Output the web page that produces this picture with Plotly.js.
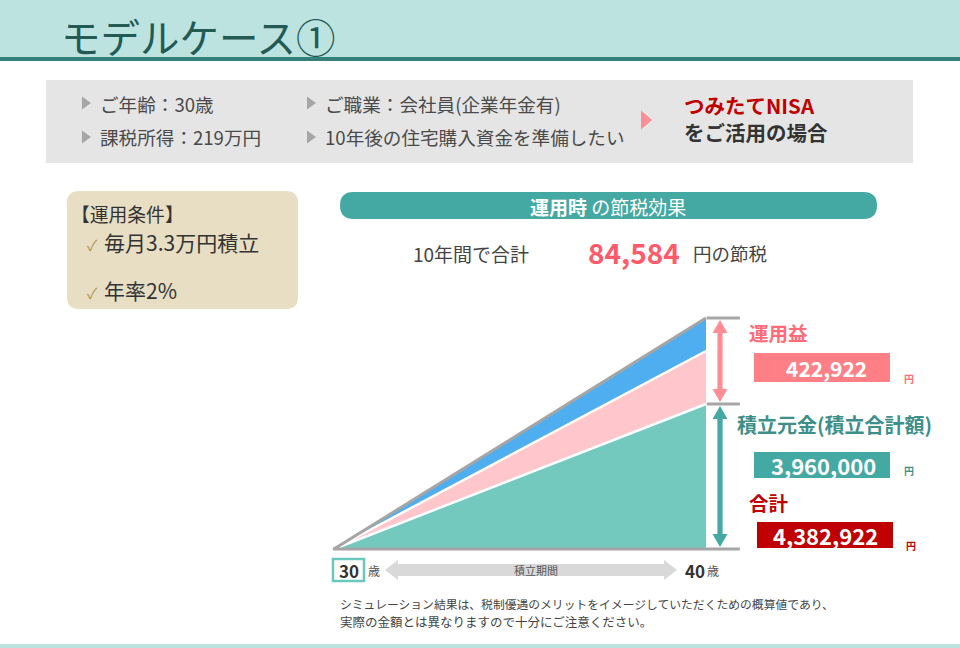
<!DOCTYPE html>
<html><head><meta charset="utf-8">
<script src="https://cdn.plot.ly/plotly-3.0.1.min.js"></script>
<style>html,body{margin:0;padding:0;background:#fff;} #chart{width:960px;height:648px;}</style>
</head><body><div id="chart"></div>
<script>
// ---- data ----
const ages = [30, 40];
const ageLabels = ['30', '40'];
// band heights as drawn in the schematic (arbitrary drawing units)
const principalBand = [0, 145];
const gainBand = [0, 53];
const taxBand = [0, 33];
const valueNames = ['運用益', '積立元金(積立合計額)', '合計'];
const valueLabels = ['422,922', '3,960,000', '4,382,922'];
const taxSaving = '84,584';
const profileItems = ['ご年齢：30歳', '課税所得：219万円', 'ご職業：会社員(企業年金有)', '10年後の住宅購入資金を準備したい'];
const conditions = ['毎月3.3万円積立', '年率2%'];

// ---- helpers (pixel -> paper) ----
const W = 960, H = 648;
const X = px => px / W;
const Y = py => 1 - py / H;
const JP = '"Noto Sans CJK JP", "Noto Sans", sans-serif';
const shapes = [];
const annotations = [];
function rect(x0, y0, x1, y1, fill, extra) {
  shapes.push(Object.assign({type: 'rect', xref: 'paper', yref: 'paper', x0: X(x0), x1: X(x1), y0: Y(y1), y1: Y(y0), fillcolor: fill, line: {width: 0}, layer: 'below'}, extra || {}));
}
function poly(pts, fill, layer) {
  const d = 'M' + pts.map(p => X(p[0]).toFixed(5) + ',' + Y(p[1]).toFixed(5)).join('L') + 'Z';
  shapes.push({type: 'path', xref: 'paper', yref: 'paper', path: d, fillcolor: fill, line: {width: 0}, layer: layer || 'above'});
}
function rrect(x0, y0, x1, y1, r, fill) {
  const P = (x, y) => X(x).toFixed(5) + ',' + Y(y).toFixed(5);
  const d = 'M' + P(x0 + r, y0) + 'L' + P(x1 - r, y0) + 'Q' + P(x1, y0) + ' ' + P(x1, y0 + r) +
    'L' + P(x1, y1 - r) + 'Q' + P(x1, y1) + ' ' + P(x1 - r, y1) + 'L' + P(x0 + r, y1) +
    'Q' + P(x0, y1) + ' ' + P(x0, y1 - r) + 'L' + P(x0, y0 + r) + 'Q' + P(x0, y0) + ' ' + P(x0 + r, y0) + 'Z';
  shapes.push({type: 'path', xref: 'paper', yref: 'paper', path: d, fillcolor: fill, line: {width: 0}, layer: 'below'});
}
function txt(text, x, y, size, color, xanchor, extra) {
  annotations.push(Object.assign({text: text, xref: 'paper', yref: 'paper', x: X(x), y: Y(y), xanchor: xanchor || 'left', yanchor: 'middle', showarrow: false, font: {family: JP, size: size, color: color}}, extra || {}));
}
function tri(x, y, w, h, fill) { poly([[x, y - h / 2], [x + w, y], [x, y + h / 2]], fill); }
function vArrow(x, y0, y1, color) {
  const s = 2.6, hw = 7.5, hl = 13;
  poly([[x, y0], [x - hw, y0 + hl], [x - s, y0 + hl], [x - s, y1 - hl], [x - hw, y1 - hl], [x, y1],
        [x + hw, y1 - hl], [x + s, y1 - hl], [x + s, y0 + hl], [x + hw, y0 + hl]], color);
}

// header
rect(0, 0, 960, 57, '#bde3e1');
rect(0, 57, 960, 61, '#357f7b');
txt('モデルケース①', 59, 35, 39.5, '#235a54');
rect(0, 644, 960, 648, '#bde3e1');

// profile box
rect(46, 80, 913, 163, '#e5e5e5');
const gray = '#a6a6a6';
tri(82, 103, 9, 13, gray); tri(82, 137, 9, 13, gray);
tri(307, 103, 9, 13, gray); tri(307, 137, 9, 13, gray);
txt(profileItems[0], 98, 103, 18.6, '#4a4a4a');
txt(profileItems[1], 98, 137, 18.6, '#4a4a4a');
txt(profileItems[2], 323, 103, 18.6, '#4a4a4a');
txt(profileItems[3], 323, 137, 18.6, '#4a4a4a');
tri(641, 120, 11, 19, '#ff8d96');
txt('<b>つみたてNISA</b>', 682, 105, 20.5, '#c00000');
txt('<b>をご活用の場合</b>', 682, 132, 20.5, '#333333');

// conditions box
rrect(67, 191, 298, 309, 12, '#e7dec4');
txt('【運用条件】', 69, 213, 18.8, '#333333');
txt('✓', 85, 244, 15, '#b3944f');
txt(conditions[0], 102, 242, 21, '#333333');
txt('✓', 85, 292, 15, '#b3944f');
txt(conditions[1], 102, 290, 21, '#333333');

// pill
rrect(340, 192, 877, 219, 13.5, '#45a9a3');
txt('<b>運用時</b> の節税効果', 608, 206, 19, '#ffffff', 'center');
txt('10年間で合計', 411, 253, 19, '#444444');
txt('<b>' + taxSaving + '</b>', 634, 252, 28, '#ff5a6a', 'center');
txt('円の節税', 691, 253, 18.5, '#444444');

// gray guide lines
const lineGray = '#a5a5a5';
shapes.push({type: 'line', xref: 'x', yref: 'y', x0: 29.97, x1: 40.91, y0: 0, y1: 0, line: {color: lineGray, width: 3}});
shapes.push({type: 'line', xref: 'x', yref: 'y', x0: 40.02, x1: 40.91, y0: 231, y1: 231, line: {color: lineGray, width: 3}});
shapes.push({type: 'line', xref: 'x', yref: 'y', x0: 40.02, x1: 40.91, y0: 145, y1: 145, line: {color: lineGray, width: 3}});
vArrow(720, 320, 402, '#ff8d96');
vArrow(720, 406, 547, '#45a9a3');

// value labels
txt('<b>' + valueNames[0] + '</b>', 747, 333, 19.5, '#ff6b78');
rect(754, 353, 890, 382, '#ff7f87');
txt('<b>' + valueLabels[0] + '</b>', 826, 368, 21, '#ffffff', 'center');
txt('<b>円</b>', 902, 378, 10, '#ff6b78');
txt('<b>' + valueNames[1] + '</b>', 735, 424, 20, '#3d8f8a');
rect(754, 452, 890, 478, '#45a9a3');
txt('<b>' + valueLabels[1] + '</b>', 823, 465, 22, '#ffffff', 'center');
txt('<b>円</b>', 902, 470, 10, '#3d8f8a');
txt('<b>' + valueNames[2] + '</b>', 747, 502, 19.5, '#c00000');
rect(757, 522, 893, 548, '#c00000');
txt('<b>' + valueLabels[2] + '</b>', 825, 535, 22, '#ffffff', 'center');
txt('<b>円</b>', 904, 545, 10, '#c00000');

// age axis
rect(333, 559, 364, 581, '#ffffff', {line: {color: '#6cc7bd', width: 2.5}});
txt('<b>' + ageLabels[0] + '</b>', 348.5, 570, 17, '#333333', 'center');
txt('歳', 366, 570, 12, '#555555');
const ay = 570;
poly([[385, ay], [398, ay - 10], [398, ay - 6], [664, ay - 6], [664, ay - 10], [677, ay], [664, ay + 10], [664, ay + 6], [398, ay + 6], [398, ay + 10]], '#d9d9d9', 'below');
txt('積立期間', 536, 570, 11, '#555555', 'center');
txt('<b>' + ageLabels[1] + '</b>', 683, 570, 17, '#333333');
txt('歳', 705, 570, 12, '#555555');

// disclaimer
txt('シミュレーション結果は、税制優遇のメリットをイメージしていただくための概算値であり、', 338, 603, 11.8, '#444444');
txt('実際の金額とは異なりますので十分にご注意ください。', 338, 621, 12.5, '#444444');

// ---- traces ----
const traces = [
  {x: ages, y: principalBand, type: 'scatter', mode: 'lines', stackgroup: 'a', fillcolor: '#74c9bf', line: {color: '#ffffff', width: 2.5}, hoverinfo: 'skip', name: '積立元金'},
  {x: ages, y: gainBand, type: 'scatter', mode: 'lines', stackgroup: 'a', fillcolor: '#ffc6cc', line: {color: '#ffffff', width: 2.5}, hoverinfo: 'skip', name: '運用益'},
  {x: ages, y: taxBand, type: 'scatter', mode: 'lines', stackgroup: 'a', fillcolor: '#4eaef0', line: {color: lineGray, width: 3}, hoverinfo: 'skip', name: '節税効果'}
];

const scale = 37.2;
const layout = {
  width: W, height: H,
  margin: {l: 0, r: 0, t: 0, b: 0},
  paper_bgcolor: '#ffffff', plot_bgcolor: 'rgba(0,0,0,0)',
  showlegend: false,
  xaxis: {range: [30 - 334 / scale, 30 + (W - 334) / scale], visible: false, fixedrange: true},
  yaxis: {range: [-(H - 549), 549], visible: false, fixedrange: true},
  shapes: shapes,
  annotations: annotations
};
Plotly.newPlot('chart', traces, layout, {displayModeBar: false, staticPlot: true});
</script>
</body></html>
